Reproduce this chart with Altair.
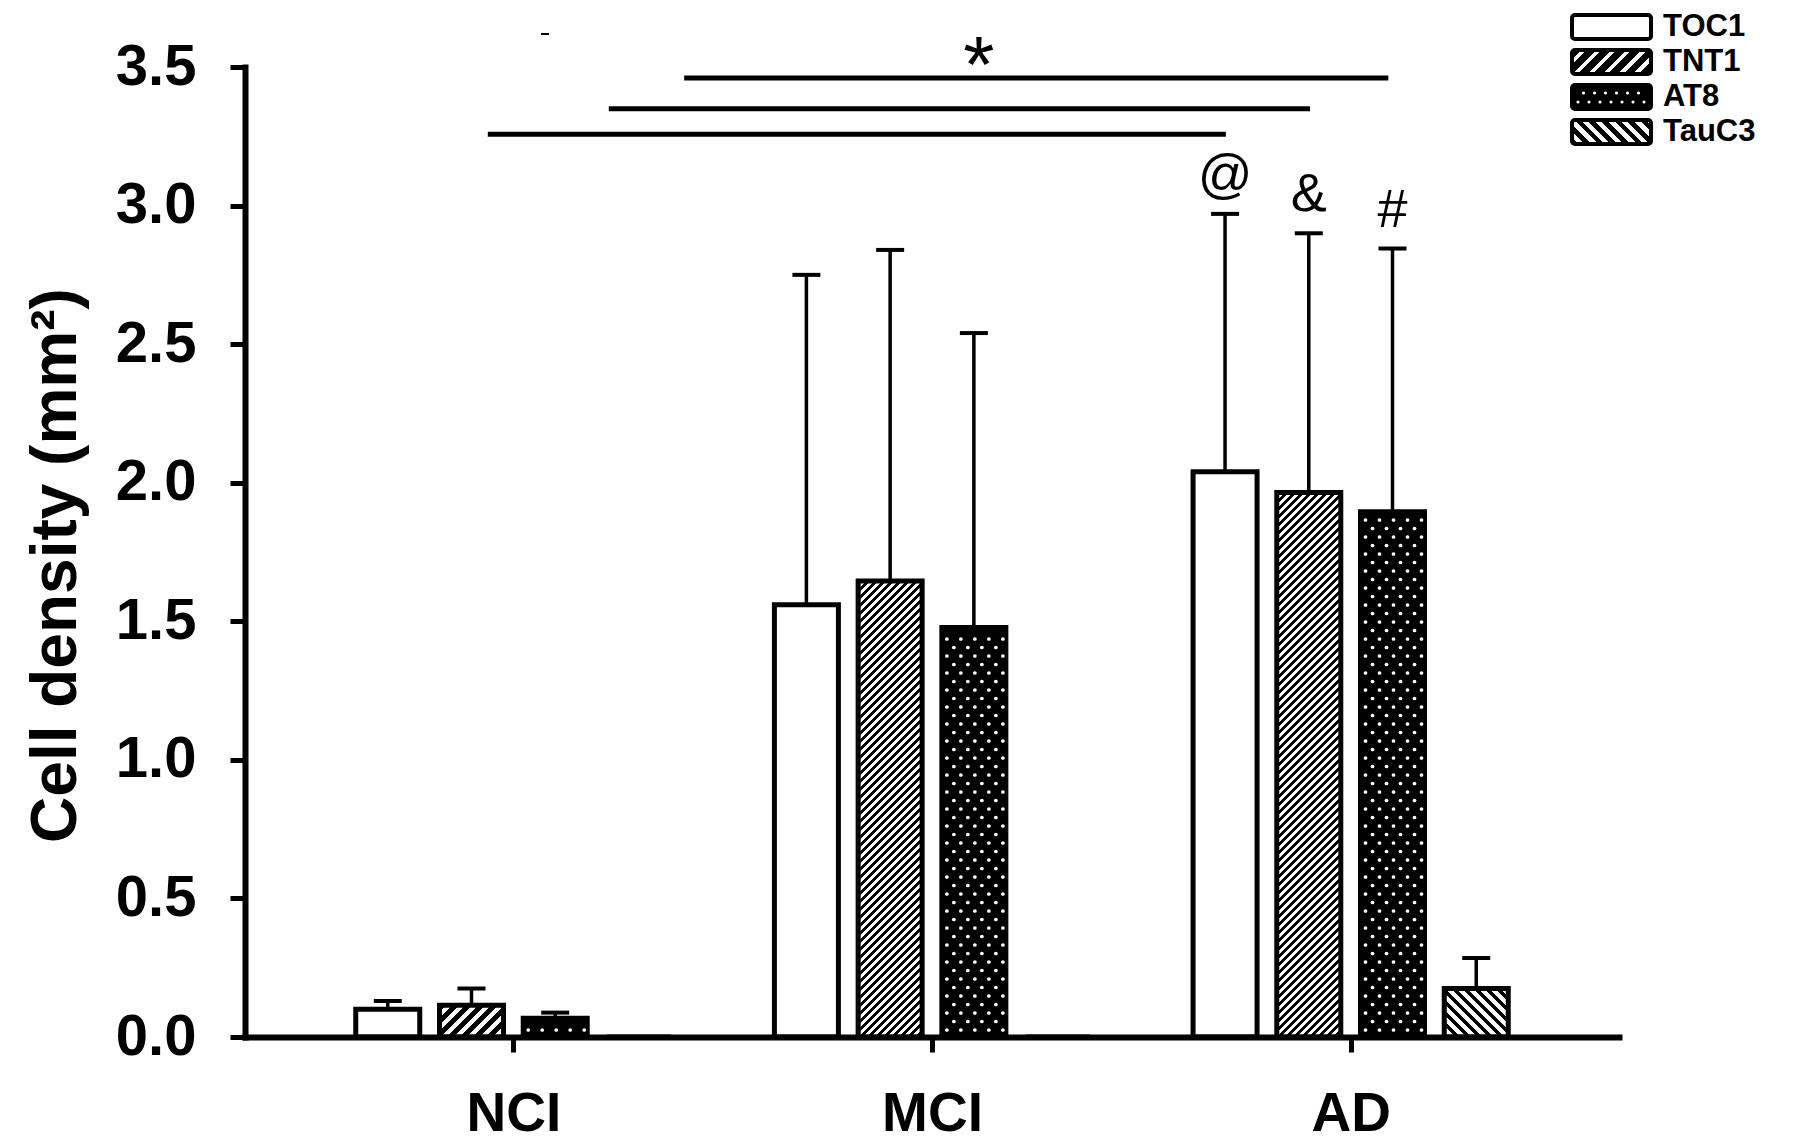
import json
import altair as alt

# ---------------- data ----------------
groups = ["NCI", "MCI", "AD"]
series = ["TOC1", "TNT1", "AT8", "TauC3"]
mean_toc1 = [0.10, 1.56, 2.04]
mean_tnt1 = [0.115, 1.645, 1.965]
mean_at8 = [0.068, 1.478, 1.895]
mean_tauc3 = [0.0, 0.0, 0.175]
sd_toc1 = [0.03, 1.19, 0.93]
sd_tnt1 = [0.06, 1.195, 0.935]
sd_at8 = [0.02, 1.062, 0.95]
sd_tauc3 = [0.0, 0.0, 0.11]
ad_marks = ["@", "&", "#", ""]
y_tick_values = [0.0, 0.5, 1.0, 1.5, 2.0, 2.5, 3.0, 3.5]
sig_x_left = [0.408, 0.228, -0.061]
sig_x_right = [2.09, 1.903, 1.702]
sig_y = [3.46, 3.349, 3.257]
sig_label = "*"
sig_label_x = 1.112
sig_label_y = 3.41
y_title = "Cell density (mm\u00b2)"

# ---------------- layout (style) ----------------
PAGE = 8
PAD_L, PAD_T, PAD_R, PAD_B = 237, 59, 170, 104
W, H = 1374, 970
X_DOM = [-0.641, 2.641]
Y_DOM = [0.0, 3.5]
SX = W / (X_DOM[1] - X_DOM[0])
SY = H / (Y_DOM[1] - Y_DOM[0])
ORIGIN_X = PAGE + PAD_L
BASE_Y = PAGE + PAD_T + H
FONT = "Liberation Sans"


def to_px_x(v):
    return ORIGIN_X + (v - X_DOM[0]) * SX


def to_px_y(v):
    return BASE_Y - v * SY


def from_px_x(p):
    return (p - ORIGIN_X) / SX + X_DOM[0]


def from_px_y(p):
    return (BASE_Y - p) / SY


def stripes(w, h, period, frac, direction):
    L = w + h
    m = L / (w * w + h * h)
    n = L / period
    stops = []
    k = 0
    while k < n:
        a = k / n
        b = min((k + frac) / n, 1.0)
        c = min((k + 1) / n, 1.0)
        stops += [
            {"offset": round(a, 5), "color": "black"},
            {"offset": round(b, 5), "color": "black"},
            {"offset": round(b, 5), "color": "white"},
            {"offset": round(c, 5), "color": "white"},
        ]
        k += 1
    if direction == "/":
        x1, y1, x2, y2 = 0, 0, m * w, m * h
    else:
        x1, y1, x2, y2 = 0, 1, m * w, 1 - m * h
    return {"gradient": "linear", "x1": x1, "y1": y1, "x2": x2, "y2": y2, "stops": stops}


def pattern_for(s, w, h, legend=False):
    if s == "TOC1" or h < 1:
        return "white"
    if s == "AT8":
        return "black"
    if s == "TNT1":
        return stripes(w, h, 15 if legend else (8 if h > 60 else 13), 0.62 if legend else 0.55, "/")
    return stripes(w, h, 13 if legend else 11, 0.5, "\\")


def dot_grid(left, top, right, bottom, dx, dy, x0=5):
    pts = []
    r = 0
    y = bottom - 7
    while y >= top + 5:
        off = 0 if r % 2 == 0 else dx / 2
        x = left + x0 + off
        while x <= right - 2:
            pts.append((x, y))
            x += dx
        y -= dy
        r += 1
    return pts


means = dict(zip(series, [mean_toc1, mean_tnt1, mean_at8, mean_tauc3]))
sds = dict(zip(series, [sd_toc1, sd_tnt1, sd_at8, sd_tauc3]))
OFFSETS = dict(zip(series, [-0.3, -0.1, 0.1, 0.3]))
BAR_W_PX = 64
CAP_W_PX = 28

bar_rows, dot_rows, err_rows, mark_rows = [], [], [], []
for gi, g in enumerate(groups):
    for si, s in enumerate(series):
        m = means[s][gi]
        sd = sds[s][gi]
        cx = gi + OFFSETS[s]
        cx_px = to_px_x(cx)
        h_px = m * SY
        hw = BAR_W_PX / 2 / SX
        bar_rows.append({"group": g, "series": s, "x": cx - hw, "x2": cx + hw,
                         "y": 0.0, "y2": m, "pattern": pattern_for(s, BAR_W_PX, h_px)})
        if s == "AT8" and h_px > 4:
            for px, py in dot_grid(cx_px - BAR_W_PX / 2, to_px_y(m), cx_px + BAR_W_PX / 2, BASE_Y, 14, 8.5):
                dot_rows.append({"x": from_px_x(px), "y": from_px_y(py)})
        if sd > 0:
            err_rows.append({"x": cx, "xl": cx - CAP_W_PX / 2 / SX, "xr": cx + CAP_W_PX / 2 / SX,
                             "y": m, "y2": m + sd})
        if g == "AD" and ad_marks[si]:
            mark_rows.append({"x": cx, "y": m + sd, "t": ad_marks[si]})

sig_rows = [{"x": a, "x2": b, "y": c} for a, b, c in zip(sig_x_left, sig_x_right, sig_y)]
# small stray dash above the plot
dash_rows = [{"x": from_px_x(541), "x2": from_px_x(549), "y": from_px_y(34)}]

# legend (layout in page px, converted to the shared scales)
LEG_X0, LEG_X1 = 1572, 1651
LEG_CY = [27, 62, 97, 132]
LEG_HH = 12
LEG_TX = 1663
leg_rows, leg_dots, leg_text = [], [], []
for s, cy in zip(series, LEG_CY):
    leg_rows.append({"x": from_px_x(LEG_X0), "x2": from_px_x(LEG_X1),
                     "y": from_px_y(cy + LEG_HH), "y2": from_px_y(cy - LEG_HH),
                     "pattern": pattern_for(s, LEG_X1 - LEG_X0, 2 * LEG_HH, legend=True)})
    leg_text.append({"x": from_px_x(LEG_TX), "y": from_px_y(cy), "t": s})
    if s == "AT8":
        for px, py in dot_grid(LEG_X0, cy - LEG_HH, LEG_X1, cy + LEG_HH, 11, 9, x0=6):
            leg_dots.append({"x": from_px_x(px), "y": from_px_y(py)})

# ---------------- chart ----------------
xs = alt.Scale(domain=X_DOM, nice=False, zero=False)
ys = alt.Scale(domain=Y_DOM, nice=False, zero=False)

x_axis = alt.Axis(values=[0, 1, 2], labelExpr=f"{json.dumps(groups)}[datum.value]", title=None,
                  grid=False, domainColor="black", domainWidth=6, domainCap="square",
                  tickColor="black", tickWidth=5, tickSize=15,
                  labelFont=FONT, labelFontWeight="bold", labelFontSize=55, labelColor="black",
                  labelPadding=35, zindex=1)
y_axis = alt.Axis(values=y_tick_values, format=".1f", title=y_title, grid=False,
                  domainColor="black", domainWidth=6, domainCap="square",
                  tickColor="black", tickWidth=5, tickSize=15,
                  labelFont=FONT, labelFontWeight="bold", labelFontSize=58, labelColor="black",
                  labelPadding=34, titleFont=FONT, titleFontWeight="bold", titleFontSize=64,
                  titleColor="black", titleX=-157, titleY=498, titleAngle=270,
                  titleAlign="center", titleBaseline="bottom", zindex=1)


def X(field):
    return alt.X(field, scale=xs, axis=x_axis, title=None)


def Y(field):
    return alt.Y(field, scale=ys, axis=y_axis, title=y_title)


bars = alt.Chart(alt.Data(values=bar_rows)).mark_rect(stroke="black", strokeWidth=5).encode(
    x=X("x:Q"), x2="x2:Q", y=Y("y:Q"), y2="y2:Q",
    fill=alt.Fill("pattern:N", scale=None),
)

dots = alt.Chart(alt.Data(values=dot_rows)).mark_circle(color="white", size=14, opacity=1).encode(
    x=X("x:Q"), y=Y("y:Q"))

stems = alt.Chart(alt.Data(values=err_rows)).mark_rule(color="black", strokeWidth=3.5).encode(
    x=X("x:Q"), y=Y("y:Q"), y2="y2:Q")

caps = alt.Chart(alt.Data(values=err_rows)).mark_rule(color="black", strokeWidth=4).encode(
    x=X("xl:Q"), x2="xr:Q", y=Y("y2:Q"))

sig = alt.Chart(alt.Data(values=sig_rows)).mark_rule(color="black", strokeWidth=5).encode(
    x=X("x:Q"), x2="x2:Q", y=Y("y:Q"))

dash = alt.Chart(alt.Data(values=dash_rows)).mark_rule(color="black", strokeWidth=2).encode(
    x=X("x:Q"), x2="x2:Q", y=Y("y:Q"))

star = alt.Chart(alt.Data(values=[{"x": sig_label_x, "y": sig_label_y, "t": sig_label}])).mark_text(
    font=FONT, fontSize=80, color="black", align="center", baseline="alphabetic").encode(
    x=X("x:Q"), y=Y("y:Q"), text="t:N")

symbols = alt.Chart(alt.Data(values=mark_rows)).mark_text(
    font=FONT, fontSize=54, color="black", align="center", baseline="alphabetic", dy=-22).encode(
    x=X("x:Q"), y=Y("y:Q"), text="t:N")

leg_boxes = alt.Chart(alt.Data(values=leg_rows)).mark_rect(stroke="black", strokeWidth=4, cornerRadius=3).encode(
    x=X("x:Q"), x2="x2:Q", y=Y("y:Q"), y2="y2:Q",
    fill=alt.Fill("pattern:N", scale=None))

leg_dot_layer = alt.Chart(alt.Data(values=leg_dots)).mark_circle(color="white", size=10, opacity=1).encode(
    x=X("x:Q"), y=Y("y:Q"))

leg_labels = alt.Chart(alt.Data(values=leg_text)).mark_text(
    font=FONT, fontSize=31, fontWeight="bold", color="black", align="left", baseline="middle").encode(
    x=X("x:Q"), y=Y("y:Q"), text="t:N")

chart = alt.layer(bars, dots, stems, caps, sig, dash, star, symbols,
                  leg_boxes, leg_dot_layer, leg_labels).properties(
    width=W, height=H,
    autosize=alt.AutoSizeParams(type="none"),
    padding={"left": PAD_L, "top": PAD_T, "right": PAD_R, "bottom": PAD_B},
).configure_view(stroke=None)

chart.save("out.html", embed_options={"renderer": "svg", "actions": False})
